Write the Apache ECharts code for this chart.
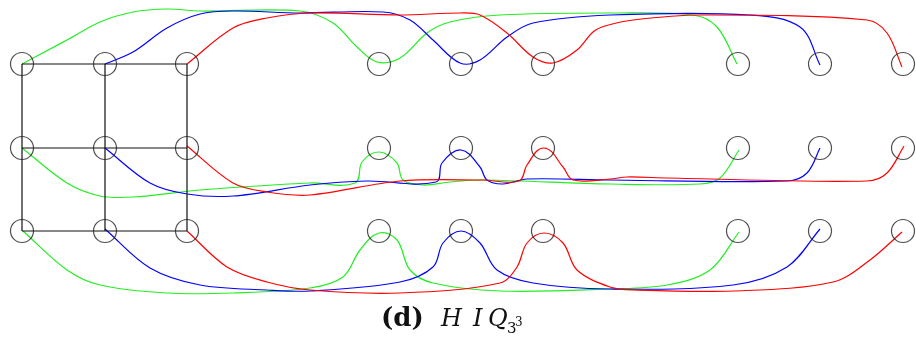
<!DOCTYPE html>
<html>
<head>
<meta charset="utf-8">
<script src="https://cdn.jsdelivr.net/npm/echarts@6/dist/echarts.min.js"></script>
<style>
  html, body { margin: 0; padding: 0; background: #fff; }
  #main { width: 916px; height: 347px; }
</style>
</head>
<body>
<div id="main"></div>
<script>
// node columns / rows (px-like data units)
var colX = [22, 105, 187, 379, 461, 543, 738, 820, 903];
var rowY = [64, 148, 231];

// grid (black lines), only first three columns
var gridCols = [22, 105, 187];

// curves, top row
var greenTop = [[22,64],[67,40],[100,22],[133,12],[167,9],[200,11],[300,11],[333,23],[357,47],[377,62],[400,58],[427,33],[450,22],[500,15],[610,13],[693,15],[717,27],[737,64]];
var blueTop = [[105,64],[133,52],[167,28],[200,14],[233,11],[300,13],[383,12],[410,20],[433,40],[460,63],[480,60],[507,37],[533,23],[610,15],[750,15],[800,27],[820,65]];
var redTop = [[187,64],[233,28],[267,18],[310,13],[400,15],[460,13],[480,15],[507,33],[533,57],[553,63],[577,50],[593,32],[605,26],[633,20],[700,15],[867,20],[887,33],[902,67]];

// curves, middle row
var greenMid = [[22,148],[67,183],[100,196],[133,197],[200,190],[310,183],[355,183],[362,162],[379,152],[397,163],[403,180],[423,185],[450,182],[483,180],[610,184],[700,184],[720,178],[739,150]];
var blueMid = [[105,148],[150,183],[187,194],[233,196],[310,185],[367,181],[436,182],[442,163],[461,150],[480,167],[487,180],[503,184],[527,179],[610,180],[787,181],[807,173],[820,148]];
var redMid = [[187,146],[233,183],[267,192],[310,195],[400,181],[483,180],[519,181],[527,165],[544,148],[563,167],[573,180],[610,179],[627,177],[667,178],[867,181],[887,173],[904,146]];

// curves, bottom row
var greenBot = [[23,231],[67,270],[100,285],[167,293],[233,293],[310,288],[343,277],[360,250],[379,233],[397,240],[410,270],[433,283],[500,291],[610,289],[667,285],[710,270],[739,232]];
var blueBot = [[105,229],[150,268],[200,285],[267,290],[310,291],[400,282],[433,267],[443,243],[461,231],[480,243],[497,270],[533,283],[610,289],[733,285],[787,267],[820,229]];
var redBot = [[187,231],[227,267],[267,282],[310,290],[400,293],[500,283],[517,267],[527,243],[544,233],[563,243],[577,270],[610,287],[633,290],[733,291],[833,282],[870,260],[902,232]];

var GREEN = '#22ee22', BLUE = '#0000ff', RED = '#ff0000';

var series = [];

// black grid lines
rowY.forEach(function (y) {
    series.push({
        type: 'line', symbol: 'none', silent: true,
        data: gridCols.map(function (x) { return [x, y]; }),
        lineStyle: { color: '#111', width: 1.2 }
    });
});
gridCols.forEach(function (x) {
    series.push({
        type: 'line', symbol: 'none', silent: true,
        data: rowY.map(function (y) { return [x, y]; }),
        lineStyle: { color: '#111', width: 1.2 }
    });
});

function unit(a, b) {
    var dx = b[0] - a[0], dy = b[1] - a[1];
    var l = Math.sqrt(dx * dx + dy * dy) || 1;
    return [dx / l, dy / l];
}

// smooth curve: each point i draws the segment i -> i+1
// tangent = direction of neighbours, handle = chord / 3
function curve(pts, color) {
    return {
        type: 'custom', silent: true,
        data: pts,
        encode: { x: 0, y: 1 },
        renderItem: function (params, api) {
            var i = params.dataIndex;
            var n = pts.length;
            if (i >= n - 1) return;
            var p = function (k) {
                k = Math.max(0, Math.min(n - 1, k));
                return api.coord(pts[k]);
            };
            var p0 = p(i - 1), p1 = p(i), p2 = p(i + 1), p3 = p(i + 2);
            var d = Math.sqrt(Math.pow(p2[0] - p1[0], 2) + Math.pow(p2[1] - p1[1], 2)) / 3;
            var t1 = unit(p0, p2), t2 = unit(p1, p3);
            return {
                type: 'bezierCurve',
                shape: {
                    x1: p1[0], y1: p1[1], x2: p2[0], y2: p2[1],
                    cpx1: p1[0] + t1[0] * d, cpy1: p1[1] + t1[1] * d,
                    cpx2: p2[0] - t2[0] * d, cpy2: p2[1] - t2[1] * d
                },
                style: { stroke: color, lineWidth: 1.2, fill: null }
            };
        }
    };
}
series.push(curve(greenTop, GREEN), curve(blueTop, BLUE), curve(redTop, RED));
series.push(curve(greenMid, GREEN), curve(blueMid, BLUE), curve(redMid, RED));
series.push(curve(greenBot, GREEN), curve(blueBot, BLUE), curve(redBot, RED));

// node circles
var nodes = [];
rowY.forEach(function (y) {
    colX.forEach(function (x) { nodes.push([x, y]); });
});
series.push({
    type: 'scatter', silent: true,
    symbol: 'circle', symbolSize: 23,
    data: nodes,
    itemStyle: { color: 'rgba(0,0,0,0)', borderColor: '#222', borderWidth: 1.2 },
    z: 5
});

var myChart = echarts.init(document.getElementById('main'));
var capFont = '"DejaVu Serif"';
var option = {
    animation: false,
    backgroundColor: '#fff',
    grid: { left: 0, right: 0, top: 0, bottom: 0 },
    xAxis: { type: 'value', min: 0, max: 916, show: false },
    yAxis: { type: 'value', min: 0, max: 347, inverse: true, show: false },
    // caption "(d) HIQ_{3^3}"
    graphic: [
        { type: 'text', left: 381, top: 306, style: { text: '(d)', font: 'bold 26px ' + capFont, fill: '#111' } },
        { type: 'text', left: 441, top: 308, style: { text: 'H', font: 'italic 24px ' + capFont, fill: '#111' } },
        { type: 'text', left: 473, top: 308, style: { text: 'I', font: 'italic 24px ' + capFont, fill: '#111' } },
        { type: 'text', left: 488, top: 308, style: { text: 'Q', font: 'italic 24px ' + capFont, fill: '#111' } },
        { type: 'text', left: 507, top: 322, style: { text: '3', font: '15px ' + capFont, fill: '#111' } },
        { type: 'text', left: 515, top: 317, style: { text: '3', font: '12px ' + capFont, fill: '#111' } }
    ],
    series: series
};
myChart.setOption(option);
</script>
</body>
</html>
